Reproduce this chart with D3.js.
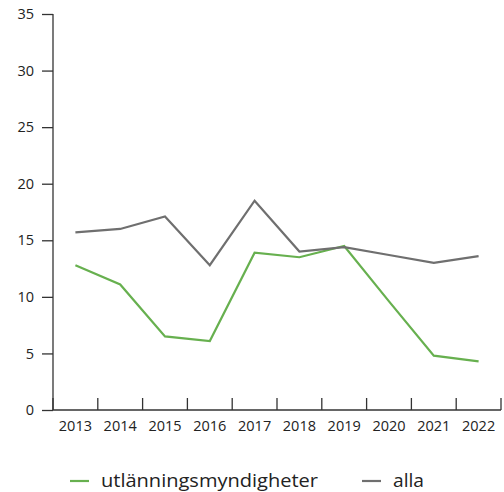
<!DOCTYPE html>
<html><head><meta charset="utf-8">
<script src="https://cdn.jsdelivr.net/npm/d3@7"></script>
<style>
html,body{margin:0;padding:0;background:#fff;}
svg text{font-family:"Open Sans",Lato,sans-serif;fill:#222;}
</style></head>
<body><svg id="c" width="504" height="492"></svg>
<script>
const years = ["2013","2014","2015","2016","2017","2018","2019","2020","2021","2022"];
const utlanning = [12.8,11.1,6.5,6.1,13.9,13.5,14.5,9.6,4.8,4.3];
const alla = [15.7,16.0,17.1,12.8,18.5,14.0,14.4,13.7,13.0,13.6];
const yTicks = [0,5,10,15,20,25,30,35];
const seriesNames = ["utlänningsmyndigheter","alla"];
const seriesColors = ["#67b04f","#6f6f6f"];

const svg = d3.select("#c");
const x = d3.scaleBand().domain(years).range([53,501]);
const y = d3.scaleLinear().domain([0,35]).range([410,14]);

const yAxis = svg.append("g").attr("transform","translate(53,0)")
  .call(d3.axisLeft(y).tickValues(yTicks).tickSize(11).tickPadding(8));
yAxis.select(".domain").attr("d","M0,14V410");
const xAxis = svg.append("g").attr("transform","translate(0,410)")
  .call(d3.axisBottom(x).tickSize(0).tickPadding(11));
xAxis.select(".domain").attr("d","M53,0H501");
xAxis.selectAll(".grid").data(years).enter().append("line")
  .attr("x1",d=>x(d)+x.bandwidth()).attr("x2",d=>x(d)+x.bandwidth())
  .attr("y1",0).attr("y2",-12).attr("stroke","#333").attr("stroke-width",1.3);
xAxis.append("line").attr("x1",53).attr("x2",53).attr("y1",0).attr("y2",-12).attr("stroke","#333").attr("stroke-width",1.3);
[yAxis,xAxis].forEach(a=>{
  a.selectAll(".domain").attr("stroke","#333").attr("stroke-width",1.3);
  a.selectAll(".tick line").attr("stroke","#333").attr("stroke-width",1.3);
  a.selectAll("text").attr("font-size",14.5).attr("fill","#222").attr("font-family","'Open Sans', Lato, sans-serif");
});

const line = d3.line().x((d,i)=>x(years[i])+x.bandwidth()/2).y(d=>y(d));
[utlanning,alla].forEach((s,k)=>{
  svg.append("path").datum(s).attr("d",line).attr("fill","none")
    .attr("stroke",seriesColors[k]).attr("stroke-width",2.2).attr("stroke-linejoin","miter");
});

const legendX = [70,362];
const legendW = [217,31];
seriesNames.forEach((n,k)=>{
  const g = svg.append("g").attr("transform",`translate(${legendX[k]},481)`);
  g.append("line").attr("x1",0).attr("x2",19).attr("y1",0).attr("y2",0)
    .attr("stroke",seriesColors[k]).attr("stroke-width",2.2);
  g.append("text").attr("x",31).attr("y",6).attr("font-size",17.5)
    .attr("textLength",legendW[k]).attr("lengthAdjust","spacingAndGlyphs").text(n);
});
</script></body></html>
